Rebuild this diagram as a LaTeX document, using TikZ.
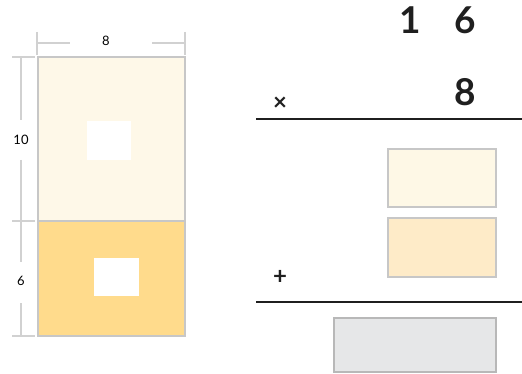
\documentclass[tikz,border=0pt]{standalone}
\usepackage{fontspec}
\setmainfont{Lato}
\begin{document}
\begin{tikzpicture}[x=1pt,y=-1pt,
  dimline/.style={draw=black!18,line width=1.8pt},
  area/.style={draw=black!22,line width=1.4pt},
  hole/.style={fill=white,draw=none},
  rule/.style={draw=black!88,line width=2.8pt},
  digit/.style={inner sep=0pt,text=black!88,font=\fontsize{37}{40}\selectfont\bfseries},
  sign/.style={inner sep=0pt,text=black!88,font=\fontsize{24}{26}\selectfont\bfseries},
  dimlabel/.style={inner sep=0pt,font=\fontsize{13}{14}\selectfont}]
\useasboundingbox (0,0) rectangle (522,374);

% area model: 8 by 10 and 8 by 6
\draw[area,fill={rgb,255:red,254;green,248;blue,232}] (38,57) rectangle (185,221);
\draw[area,fill={rgb,255:red,255;green,219;blue,140}] (38,221) rectangle (185,336);
\fill[hole] (87,121) rectangle (131,160);
\fill[hole] (94,258) rectangle (139,296);

% width dimension
\node[dimlabel] (w) at (106,41) {8};
\draw[dimline] (37,32) -- (37,55);
\draw[dimline] (185,32) -- (185,55);
\draw[dimline] (37,43) -- (70,43);
\draw[dimline] (152,43) -- (185,43);

% height dimensions
\node[dimlabel] (hA) at (21,140) {10};
\node[dimlabel] (hB) at (21,281) {6};
\draw[dimline] (12,57) -- (35,57);
\draw[dimline] (12,221) -- (35,221);
\draw[dimline] (12,336) -- (35,336);
\draw[dimline] (21,57) -- (21,120);
\draw[dimline] (21,160) -- (21,221);
\draw[dimline] (21,221) -- (21,262);
\draw[dimline] (21,303) -- (21,336);

% written multiplication
\node[digit] (d1) at (410,20) {1};
\node[digit] (d6) at (465,20) {6};
\node[digit] (d8) at (465,92) {8};
\node[sign] (times) at (280,104) {×};
\draw[rule] (256,119) -- (522,119);

\draw[area,fill={rgb,255:red,254;green,248;blue,230}] (388,149) rectangle (496,207);
\draw[area,fill={rgb,255:red,254;green,235;blue,200}] (388,218) rectangle (496,277);
\node[sign] (plus) at (280,277) {+};
\draw[rule] (256,302) -- (522,302);
\draw[area,draw=black!28,fill={rgb,255:red,230;green,231;blue,232}] (334,318) rectangle (496,372);
\end{tikzpicture}
\end{document}
